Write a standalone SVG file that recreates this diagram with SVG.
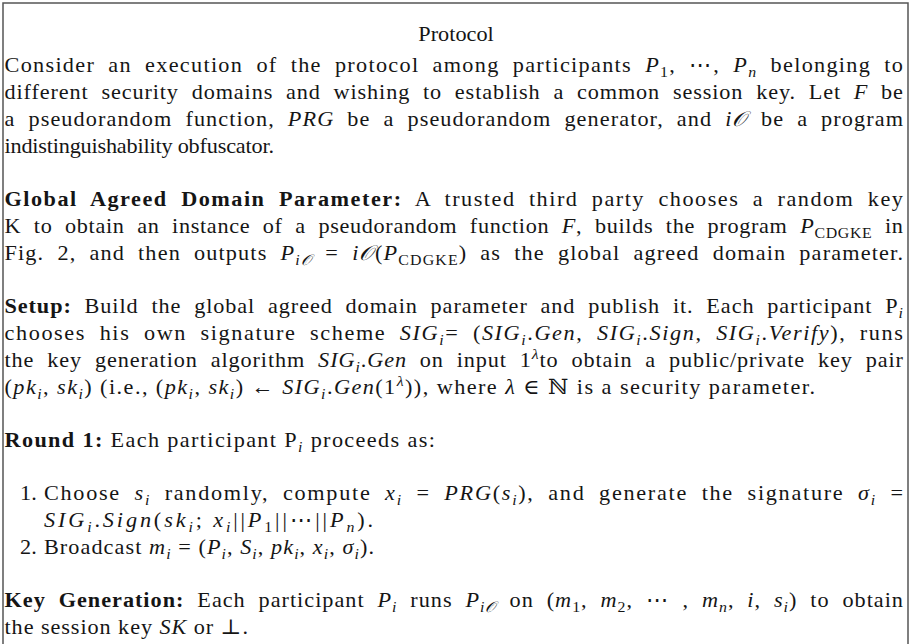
<svg xmlns="http://www.w3.org/2000/svg" width="912" height="644" viewBox="0 0 912 644">
  <style>
    .t { font-family: "Liberation Serif", "DejaVu Serif", serif; font-size: 21px; fill: #151515; }
    .j { word-spacing: 6px; }
    .b { font-weight: bold; }
    .i { font-style: italic; }
    .sb { font-size: 15px; baseline-shift: -5px; }
    .sp { font-size: 15px; baseline-shift: 8px; }
    .frame { fill: #ffffff; stroke: #555555; stroke-width: 1.5; }
  </style>

  <rect x="0" y="0" width="912" height="644" fill="#ffffff"/>
  <!-- protocol box; the bottom edge runs past the page -->
  <rect class="frame" x="3" y="3" width="905" height="700"/>

  <!-- text set slightly wide (x scaled by 1.06) to get the proportions of a Computer Modern face -->
  <g transform="scale(1.06,1)">
    <g id="title">
      <text class="t" x="430.2" y="41" text-anchor="middle">Protocol</text>
    </g>

    <g id="intro">
      <text class="t j" x="4.25" y="72" textLength="847.6" lengthAdjust="spacing">Consider an execution of the protocol among participants <tspan class="i">P</tspan><tspan class="sb">1</tspan>, ⋯, <tspan class="i">P</tspan><tspan class="sb i">n</tspan> belonging to</text>
      <text class="t j" x="4.25" y="99" textLength="847.6" lengthAdjust="spacing">different security domains and wishing to establish a common session key. Let <tspan class="i">F</tspan> be</text>
      <text class="t j" x="4.25" y="126" textLength="847.6" lengthAdjust="spacing">a pseudorandom function, <tspan class="i">PRG</tspan> be a pseudorandom generator, and <tspan class="i">i𝒪</tspan> be a program</text>
      <text class="t" x="4.25" y="153" textLength="254.2" lengthAdjust="spacing">indistinguishability obfuscator.</text>
    </g>

    <g id="global-parameter">
      <text class="t j" x="4.25" y="206" textLength="847.6" lengthAdjust="spacing"><tspan class="b">Global Agreed Domain Parameter:</tspan> A trusted third party chooses a random key</text>
      <text class="t j" x="4.25" y="233" textLength="847.6" lengthAdjust="spacing">K to obtain an instance of a pseudorandom function <tspan class="i">F</tspan>, builds the program <tspan class="i">P</tspan><tspan class="sb">CDGKE</tspan> in</text>
      <text class="t j" x="4.25" y="260" textLength="847.6" lengthAdjust="spacing">Fig. 2, and then outputs <tspan class="i">P</tspan><tspan class="sb i">i𝒪</tspan> = <tspan class="i">i𝒪</tspan>(<tspan class="i">P</tspan><tspan class="sb">CDGKE</tspan>) as the global agreed domain parameter.</text>
    </g>

    <g id="setup">
      <text class="t j" x="4.25" y="313" textLength="847.6" lengthAdjust="spacing"><tspan class="b">Setup:</tspan> Build the global agreed domain parameter and publish it. Each participant P<tspan class="sb i">i</tspan></text>
      <text class="t j" x="4.25" y="340" textLength="847.6" lengthAdjust="spacing">chooses his own signature scheme <tspan class="i">SIG</tspan><tspan class="sb i">i</tspan>= (<tspan class="i">SIG</tspan><tspan class="sb i">i</tspan>.<tspan class="i">Gen</tspan>, <tspan class="i">SIG</tspan><tspan class="sb i">i</tspan>.<tspan class="i">Sign</tspan>, <tspan class="i">SIG</tspan><tspan class="sb i">i</tspan>.<tspan class="i">Verify</tspan>), runs</text>
      <text class="t j" x="4.25" y="367" textLength="847.6" lengthAdjust="spacing">the key generation algorithm <tspan class="i">SIG</tspan><tspan class="sb i">i</tspan>.<tspan class="i">Gen</tspan> on input 1<tspan class="sp i">λ</tspan>to obtain a public/private key pair</text>
      <text class="t" x="4.25" y="394" textLength="764.6" lengthAdjust="spacing">(<tspan class="i">pk</tspan><tspan class="sb i">i</tspan>, <tspan class="i">sk</tspan><tspan class="sb i">i</tspan>) (i.e., (<tspan class="i">pk</tspan><tspan class="sb i">i</tspan>, <tspan class="i">sk</tspan><tspan class="sb i">i</tspan>) ← <tspan class="i">SIG</tspan><tspan class="sb i">i</tspan>.<tspan class="i">Gen</tspan>(1<tspan class="sp i">λ</tspan>)), where <tspan class="i">λ</tspan> ∈ ℕ is a security parameter.</text>
    </g>

    <g id="round-1">
      <text class="t" x="4.25" y="447" textLength="406" lengthAdjust="spacing"><tspan class="b">Round 1:</tspan> Each participant P<tspan class="sb i">i</tspan> proceeds as:</text>
      <text class="t" x="18.9" y="500">1.</text>
      <text class="t j" x="41.5" y="500" textLength="810.4" lengthAdjust="spacing">Choose <tspan class="i">s</tspan><tspan class="sb i">i</tspan> randomly, compute <tspan class="i">x</tspan><tspan class="sb i">i</tspan> = <tspan class="i">PRG</tspan>(<tspan class="i">s</tspan><tspan class="sb i">i</tspan>), and generate the signature <tspan class="i">σ</tspan><tspan class="sb i">i</tspan> =</text>
      <text class="t" x="41.5" y="527" textLength="310.4" lengthAdjust="spacing"><tspan class="i">SIG</tspan><tspan class="sb i">i</tspan>.<tspan class="i">Sign</tspan>(<tspan class="i">sk</tspan><tspan class="sb i">i</tspan>; <tspan class="i">x</tspan><tspan class="sb i">i</tspan>||<tspan class="i">P</tspan><tspan class="sb">1</tspan>||⋯||<tspan class="i">P</tspan><tspan class="sb i">n</tspan>).</text>
      <text class="t" x="18.9" y="554">2.</text>
      <text class="t" x="41.5" y="554" textLength="311.3" lengthAdjust="spacing">Broadcast <tspan class="i">m</tspan><tspan class="sb i">i</tspan> = (<tspan class="i">P</tspan><tspan class="sb i">i</tspan>, <tspan class="i">S</tspan><tspan class="sb i">i</tspan>, <tspan class="i">pk</tspan><tspan class="sb i">i</tspan>, <tspan class="i">x</tspan><tspan class="sb i">i</tspan>, <tspan class="i">σ</tspan><tspan class="sb i">i</tspan>).</text>
    </g>

    <g id="key-generation">
      <text class="t j" x="4.25" y="607" textLength="847.6" lengthAdjust="spacing"><tspan class="b">Key Generation:</tspan> Each participant <tspan class="i">P</tspan><tspan class="sb i">i</tspan> runs <tspan class="i">P</tspan><tspan class="sb i">i𝒪</tspan> on (<tspan class="i">m</tspan><tspan class="sb">1</tspan>, <tspan class="i">m</tspan><tspan class="sb">2</tspan>, ⋯ , <tspan class="i">m</tspan><tspan class="sb i">n</tspan>, <tspan class="i">i</tspan>, <tspan class="i">s</tspan><tspan class="sb i">i</tspan>) to obtain</text>
      <text class="t" x="4.25" y="634" textLength="229.7" lengthAdjust="spacing">the session key <tspan class="i">SK</tspan> or ⊥.</text>
    </g>
  </g>
</svg>
